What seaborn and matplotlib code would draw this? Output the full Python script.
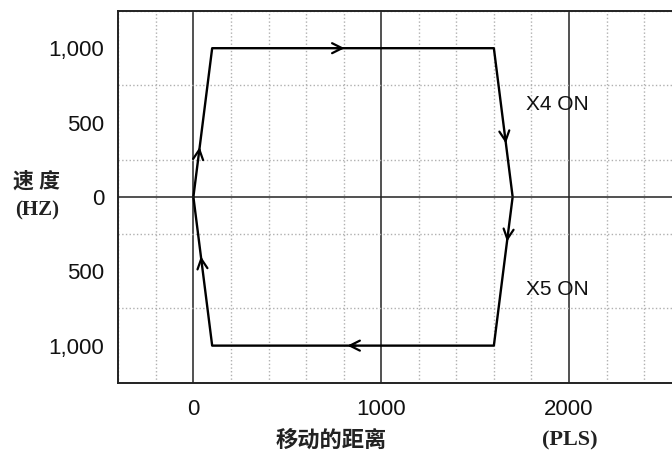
import matplotlib
matplotlib.use('Agg')
import matplotlib.pyplot as plt
from matplotlib.ticker import MultipleLocator
import seaborn as sns
import pandas as pd

# path of the positioning motion (distance in PLS, speed in HZ)
dist = [0, 100, 1600, 1700, 1600, 100, 0]
speed = [0, 1000, 1000, 0, -1000, -1000, 0]

# direction arrows: segment index of the path and where the head sits on it (fraction)
arrow_seg = [0, 1, 2, 3, 4, 5]
arrow_pos = [0.335, 0.47, 0.64, 0.30, 0.52, 0.60]

x_ticks = [0, 1000, 2000]
y_ticks = [-1000, -500, 0, 500, 1000]
y_labels = ['1,000', '500', '0', '500', '1,000']

sns.set_style('white')
plt.rcParams['font.family'] = ['Liberation Sans', 'Noto Sans CJK SC']

fig = plt.figure(figsize=(6.72, 4.59), dpi=100)
ax = fig.add_axes([0.176, 0.166, 0.83, 0.81])

df = pd.DataFrame({'dist': dist, 'speed': speed})
sns.lineplot(data=df, x='dist', y='speed', sort=False, estimator=None, errorbar=None,
             color='black', lw=1.7, ax=ax)


def on_seg(i, t):
    return (dist[i] + t * (dist[i + 1] - dist[i]),
            speed[i] + t * (speed[i + 1] - speed[i]))


for i, t in zip(arrow_seg, arrow_pos):
    ax.annotate('', xy=on_seg(i, t), xytext=on_seg(i, t - 0.03),
                arrowprops=dict(arrowstyle='->', color='black', lw=1.6, mutation_scale=18,
                                shrinkA=0, shrinkB=0))

ax.set_xlim(-400, 2570)
ax.set_ylim(-1250, 1250)
ax.set_xticks(x_ticks)
ax.set_xticklabels([str(v) for v in x_ticks])
ax.set_yticks(y_ticks)
ax.set_yticklabels(y_labels)
ax.xaxis.set_minor_locator(MultipleLocator(200))
ax.yaxis.set_minor_locator(MultipleLocator(250))
ax.grid(True, which='minor', color='#b0b0b0', linestyle=':', lw=1)
ax.grid(True, which='major', axis='x', color='#222222', lw=1.1)
ax.axhline(0, color='#222222', lw=1.1)
ax.tick_params(length=0, labelsize=16, pad=10, labelcolor='#111111')
ax.tick_params(axis='x', pad=12)
ax.set_xlabel('')
ax.set_ylabel('')
for s in ['left', 'bottom', 'top']:
    ax.spines[s].set_color('#222222')
    ax.spines[s].set_linewidth(1.4)
ax.spines['right'].set_visible(False)

ax.text(1770, 620, 'X4 ON', fontsize=15, va='center', color='#111111')
ax.text(1770, -620, 'X5 ON', fontsize=15, va='center', color='#111111')

fig.text(0.055, 0.625, '速 度\n(HZ)', fontsize=15, fontweight='bold', ha='center', va='top',
         family=['Liberation Serif', 'Noto Sans CJK SC'], linespacing=1.5, color='#222222')
fig.text(0.493, 0.04, '移动的距离', fontsize=16, fontweight='bold', ha='center', va='center',
         family=['Noto Sans CJK SC'], color='#222222')
fig.text(0.848, 0.04, '(PLS)', fontsize=16, fontweight='bold', ha='center', va='center',
         family=['Liberation Serif'], color='#222222')

fig.savefig('out.png', dpi=100)
